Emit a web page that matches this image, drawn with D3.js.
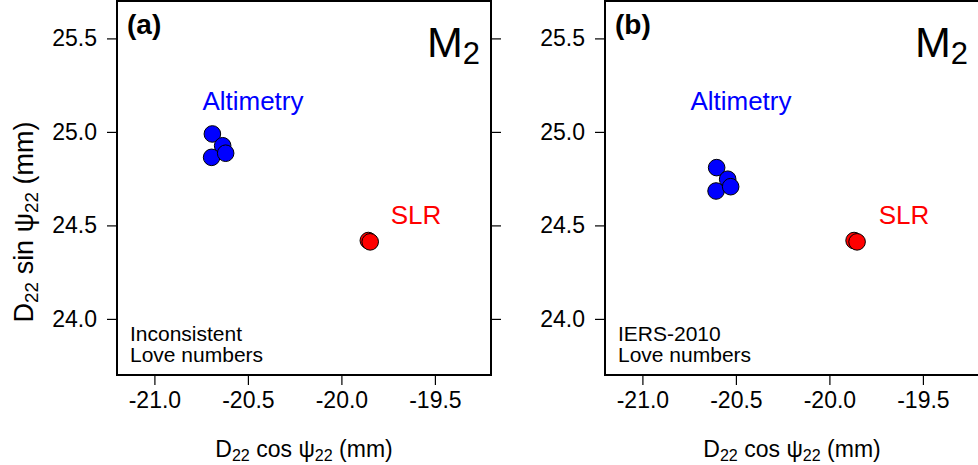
<!DOCTYPE html>
<html>
<head>
<meta charset="utf-8">
<script src="https://cdn.jsdelivr.net/npm/d3@7"></script>
<style>
  body { margin: 0; background: #fff; }
  svg { display: block; font-family: "Liberation Sans", Arial, sans-serif; }
</style>
</head>
<body>
<script>
'use strict';

// values (mm)
const altimetryA = [
  {x: -20.690, y: 24.989},
  {x: -20.635, y: 24.926},
  {x: -20.694, y: 24.864},
  {x: -20.619, y: 24.886},
];
const slrA = [
  {x: -19.856, y: 24.419},
  {x: -19.846, y: 24.412},
];
const altimetryB = [
  {x: -20.603, y: 24.809},
  {x: -20.544, y: 24.747},
  {x: -20.606, y: 24.684},
  {x: -20.528, y: 24.707},
];
const slrB = [
  {x: -19.868, y: 24.419},
  {x: -19.852, y: 24.412},
];
const xTicks = [-21.0, -20.5, -20.0, -19.5];
const yTicks = [24.0, 24.5, 25.0, 25.5];
const panels = [
  {tag: '(a)', note: ['Inconsistent', 'Love numbers'], alt: altimetryA, slr: slrA},
  {tag: '(b)', note: ['IERS-2010', 'Love numbers'], alt: altimetryB, slr: slrB},
];

const W = 978, H = 465;
const size = 374;
const panelLeft = [117, 605];
const panelTop = 1;
// plain hyphen for negatives, like the original figure
const fmt = v => d3.format('.1f')(v).replace('\u2212', '-');

const svg = d3.select('body').append('svg')
    .attr('width', W)
    .attr('height', H);

function subLabel(el, parts) {
  // parts: [text, isSub]
  parts.forEach(([t, sub]) => {
    el.append('tspan')
        .attr('font-size', sub ? '0.7em' : null)
        .attr('baseline-shift', sub ? '-25%' : null)
        .text(t);
  });
}

panels.forEach((p, i) => {
  const x0 = panelLeft[i];
  const xScale = d3.scaleLinear().domain([-21.2, -19.2]).range([0, size]);
  const yScale = d3.scaleLinear().domain([23.7, 25.7]).range([size, 0]);

  const g = svg.append('g').attr('transform', 'translate(' + x0 + ',' + panelTop + ')');

  const axes = [
    {ax: d3.axisBottom(xScale), tr: 'translate(0,' + size + ')', labels: true},
    {ax: d3.axisTop(xScale), tr: 'translate(0,0)', labels: false},
    {ax: d3.axisLeft(yScale), tr: 'translate(0,0)', labels: true},
    {ax: d3.axisRight(yScale), tr: 'translate(' + size + ',0)', labels: false},
  ];
  axes.forEach((a, k) => {
    const isX = k < 2;
    const ag = g.append('g')
        .attr('transform', a.tr)
        .call(a.ax.tickValues(isX ? xTicks : yTicks)
          .tickFormat(a.labels ? fmt : '')
          .tickSize(10).tickPadding(k === 0 ? 7 : 10));
    ag.select('.domain').remove();
    ag.selectAll('.tick line').attr('stroke', '#000').attr('stroke-width', 1.2);
    ag.selectAll('.tick text')
        .attr('font-size', 23)
        .attr('font-family', '"Liberation Sans", Arial, sans-serif')
        .attr('fill', '#000');
  });

  g.append('rect')
      .attr('width', size).attr('height', size)
      .attr('fill', 'none')
      .attr('stroke', '#000')
      .attr('stroke-width', 2);

  // points
  const drawPts = (data, fill) => {
    g.selectAll(null).data(data).enter().append('circle')
        .attr('cx', d => xScale(d.x))
        .attr('cy', d => yScale(d.y))
        .attr('r', 8.3)
        .attr('fill', fill)
        .attr('stroke', '#000')
        .attr('stroke-width', 1);
  };
  drawPts(p.alt, '#0000ff');
  drawPts(p.slr, '#ff0000');

  g.append('text')
      .attr('x', xScale(-20.473)).attr('y', yScale(25.117))
      .attr('text-anchor', 'middle')
      .attr('font-size', 26).attr('fill', '#0000ff')
      .text('Altimetry');
  g.append('text')
      .attr('x', xScale(-19.601)).attr('y', yScale(24.507))
      .attr('text-anchor', 'middle')
      .attr('font-size', 26).attr('fill', '#ff0000')
      .text('SLR');

  g.append('text')
      .attr('x', 10).attr('y', 33)
      .attr('font-size', 28).attr('font-weight', 'bold')
      .text(p.tag);

  const m = g.append('text')
      .attr('x', size - 11).attr('y', 56)
      .attr('text-anchor', 'end')
      .attr('font-size', 43);
  m.append('tspan').text('M');
  m.append('tspan').attr('font-size', '0.72em').attr('baseline-shift', '-22%').text('2');

  p.note.forEach((t, j) => {
    g.append('text')
        .attr('x', 13).attr('y', 340 + j * 21)
        .attr('font-size', 21)
        .text(t);
  });

  const xl = g.append('text')
      .attr('x', size / 2).attr('y', 456)
      .attr('text-anchor', 'middle')
      .attr('font-size', 23);
  subLabel(xl, [['D', false], ['22', true], [' cos ', false], ['\u03c8', false], ['22', true], [' (mm)', false]]);
});

const yl = svg.append('text')
    .attr('transform', 'translate(33,222) rotate(-90)')
    .attr('text-anchor', 'middle')
    .attr('font-size', 27);
subLabel(yl, [['D', false], ['22', true], [' sin ', false], ['\u03c8', false], ['22', true], [' (mm)', false]]);
</script>
</body>
</html>
